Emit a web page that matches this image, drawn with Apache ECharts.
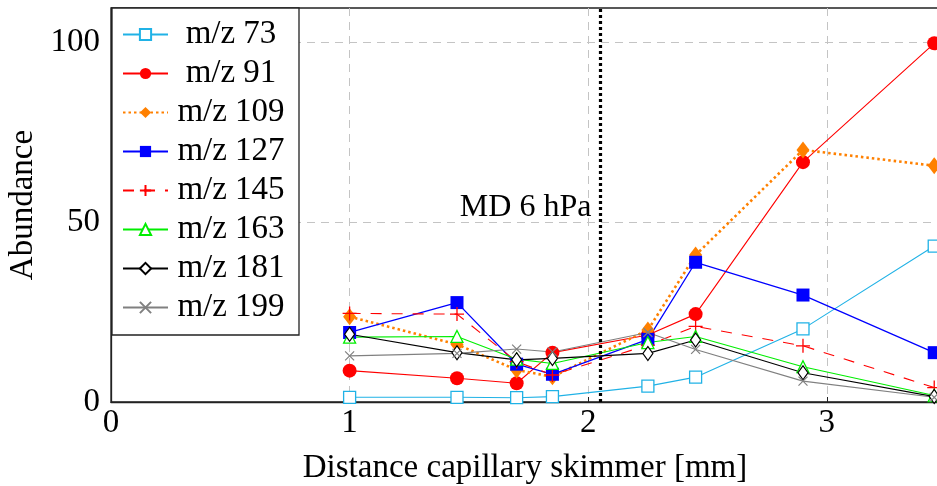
<!DOCTYPE html>
<html>
<head>
	<meta charset="utf-8"/>
	<title>Abundance vs distance capillary skimmer</title>
	<script src="https://cdn.jsdelivr.net/npm/echarts@6/dist/echarts.min.js"></script>
	<style>
		html, body { margin: 0; padding: 0; background: #fff; }
		#chart { width: 937px; height: 486px; }
	</style>
</head>
<body>
<div id="chart"></div>
<script>
	// distance capillary skimmer [mm]
	var distances = [1.0, 1.45, 1.70, 1.85, 2.25, 2.45, 2.90, 3.45];
	var mz73  = [1.3, 1.3, 1.2, 1.5, 4.4, 6.9, 20.3, 43.3];
	var mz91  = [8.7, 6.6, 5.2, 13.7, 18.6, 24.4, 66.6, 99.6];
	var mz109 = [23.7, 16.0, 8.9, 7.0, 20.0, 40.8, 70.0, 65.6];
	var mz127 = [19.3, 27.6, 10.5, 7.7, 17.4, 38.8, 29.7, 13.7];
	var mz145 = [24.6, 24.4, 11.2, 7.5, 15.8, 21.0, 15.6, 4.0];
	var mz163 = [18.0, 18.2, 11.9, 10.7, 16.5, 18.2, 9.8, 1.8];
	var mz181 = [18.8, 13.7, 11.7, 12.1, 13.5, 17.2, 8.1, 1.5];
	var mz199 = [12.8, 13.5, 14.7, 13.9, 19.3, 14.6, 5.8, 1.3];
	var seriesNames = ['m/z 73', 'm/z 91', 'm/z 109', 'm/z 127', 'm/z 145', 'm/z 163', 'm/z 181', 'm/z 199'];
	var mdPosition = 2.05;
	var mdLabel = 'MD 6 hPa';

	var font = 'Liberation Serif';
	var PLUS = 'path://M0,5L10,5M5,0L5,10';
	var CROSS = 'path://M0,0L10,10M10,0L0,10';

	function pairs(ys) {
		return distances.map(function (x, i) { return [x, ys[i]]; });
	}

	function line(name, ys, color, symbol, size, item, lineStyle) {
		return {
			name: name,
			type: 'line',
			data: pairs(ys),
			symbol: symbol,
			symbolSize: size,
			color: color,
			itemStyle: item,
			lineStyle: Object.assign({ color: color, width: 1.1 }, lineStyle || {}),
			emphasis: { disabled: true },
			animation: false
		};
	}

	var series = [
		line(seriesNames[0], mz73, '#20b2e6', 'rect', 12, { color: '#fff', borderColor: '#20b2e6', borderWidth: 1.3 }),
		line(seriesNames[1], mz91, '#ff0000', 'circle', 14, { color: '#ff0000' }),
		line(seriesNames[2], mz109, '#ff8000', 'diamond', [13, 17], { color: '#ff8000' }, { width: 2.6, type: [2.5, 3] }),
		line(seriesNames[3], mz127, '#0000ff', 'rect', 13, { color: '#0000ff' }, { width: 1.3 }),
		line(seriesNames[4], mz145, '#ff0000', PLUS, 14, { color: '#ff0000', borderColor: '#ff0000', borderWidth: 1.3 }, { type: [11, 10] }),
		line(seriesNames[5], mz163, '#00ee00', 'triangle', 12, { color: '#fff', borderColor: '#00ee00', borderWidth: 1.3 }),
		line(seriesNames[6], mz181, '#000000', 'diamond', [10, 14], { color: '#fff', borderColor: '#000', borderWidth: 1.2 }),
		line(seriesNames[7], mz199, '#808080', CROSS, 9, { color: '#808080', borderColor: '#808080', borderWidth: 1.2 })
	];

	// measurement distance marker
	series[0].markLine = {
		silent: true,
		symbol: 'none',
		label: { show: false },
		lineStyle: { color: '#000', width: 3.2, type: [3, 3] },
		data: [{ xAxis: mdPosition }]
	};
	series[0].markPoint = {
		silent: true,
		symbol: 'circle',
		symbolSize: 0,
		label: {
			show: true,
			position: 'left',
			distance: 4,
			formatter: mdLabel,
			color: '#000',
			fontFamily: font,
			fontSize: 32
		},
		data: [{ coord: [2.03, 53.9] }]
	};

	var labelStyle = { color: '#000', fontFamily: font, fontSize: 33 };

	var option = {
		backgroundColor: '#fff',
		animation: false,
		grid: {
			left: 111, right: -2, top: 8, bottom: 84,
			outerBoundsMode: 'none',
			containLabel: false,
			show: true, borderColor: '#222', borderWidth: 1.3, backgroundColor: 'transparent'
		},
		legend: {
			orient: 'vertical',
			left: 112, top: 8,
			padding: [10, 10, 11, 10],
			backgroundColor: '#fff',
			borderColor: '#222',
			borderWidth: 1.3,
			borderRadius: 0,
			itemWidth: 45,
			itemHeight: 14,
			itemGap: 6,
			data: seriesNames,
			selectedMode: false,
			formatter: function (name) { return '{t|' + name + '}'; },
			textStyle: {
				color: '#000', fontFamily: font, fontSize: 33, lineHeight: 30,
				rich: {
					t: { width: 116, align: 'center', fontFamily: font, fontSize: 33, lineHeight: 30, color: '#000' }
				}
			}
		},
		xAxis: {
			type: 'value',
			min: 0, max: 3.47, interval: 1,
			name: 'Distance capillary skimmer [mm]',
			nameLocation: 'middle',
			nameGap: 50,
			nameTextStyle: labelStyle,
			axisLine: { show: true, lineStyle: { color: '#222', width: 1.3 } },
			axisTick: { show: true, inside: true, length: 5, lineStyle: { color: '#222' } },
			axisLabel: Object.assign({
				margin: 5,
				showMaxLabel: false,
				formatter: function (v) { return Number.isInteger(v) ? String(v) : ''; }
			}, labelStyle),
			splitLine: {
				show: true, showMinLine: false, showMaxLine: false,
				lineStyle: { color: '#c4c4c4', width: 1, type: [8, 6] }
			}
		},
		yAxis: {
			type: 'value',
			min: 0, max: 109.4, interval: 50,
			name: 'Abundance',
			nameLocation: 'middle',
			nameGap: 71,
			nameRotate: 90,
			nameTextStyle: labelStyle,
			axisLine: { show: true, lineStyle: { color: '#222', width: 1.3 } },
			axisTick: { show: true, inside: true, length: 5, lineStyle: { color: '#222' } },
			axisLabel: Object.assign({
				margin: 11,
				showMaxLabel: false,
				formatter: function (v) { return v % 50 === 0 ? String(v) : ''; }
			}, labelStyle),
			splitLine: {
				show: true, showMinLine: false, showMaxLine: false,
				lineStyle: { color: '#c4c4c4', width: 1, type: [8, 6] }
			}
		},
		series: series
	};

	var chart = echarts.init(document.getElementById('chart'));
	chart.setOption(option);
</script>
</body>
</html>
